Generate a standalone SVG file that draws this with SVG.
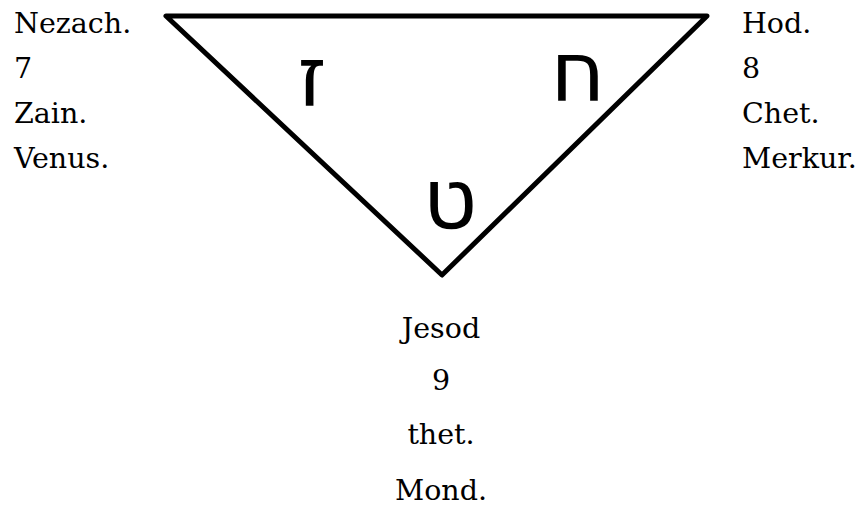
<svg xmlns="http://www.w3.org/2000/svg" width="867" height="509" viewBox="0 0 867 509">
<style>
.t{font-family:"DejaVu Serif","Liberation Serif",serif;font-size:28.5px;fill:#000}
.c{text-anchor:middle}
.h{font-family:"DejaVu Sans","Noto Sans",sans-serif;font-size:84px;fill:#000;text-anchor:middle}
</style>
<rect width="867" height="509" fill="#fff"/>
<g id="connectors">
<path d="M166,16 L707,16 L442,275 Z" fill="none" stroke="#000" stroke-width="5" stroke-linejoin="round"/>
</g>
<g id="letters">
<text class="h" x="312" y="106">ז</text>
<text class="h" x="578" y="101">ח</text>
<text class="h" x="450" y="228">ט</text>
</g>
<g id="nezach">
<text class="t" x="14" y="33">Nezach.</text>
<text class="t" x="14" y="78">7</text>
<text class="t" x="14" y="123">Zain.</text>
<text class="t" x="14" y="168">Venus.</text>
</g>
<g id="hod">
<text class="t" x="742" y="33">Hod.</text>
<text class="t" x="742" y="78">8</text>
<text class="t" x="742" y="123">Chet.</text>
<text class="t" x="742" y="168">Merkur.</text>
</g>
<g id="jesod">
<text class="t c" x="441" y="338">Jesod</text>
<text class="t c" x="441" y="390">9</text>
<text class="t c" x="441" y="444">thet.</text>
<text class="t c" x="441" y="500">Mond.</text>
</g>
</svg>
